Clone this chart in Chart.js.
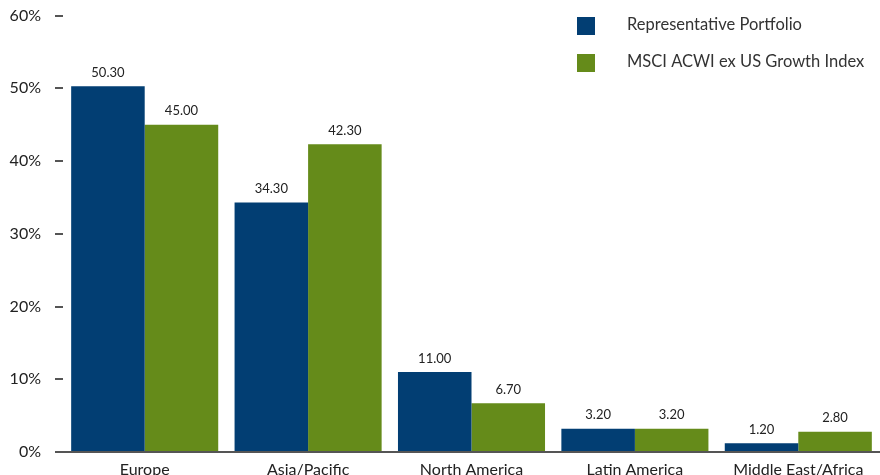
<!DOCTYPE html>
<html>
<head>
<meta charset="utf-8">
<script src="https://cdn.jsdelivr.net/npm/chart.js@4.4.1/dist/chart.umd.min.js"></script>
<style>
  html, body { margin: 0; padding: 0; background: #fff; overflow: hidden; }
  #wrap { position: relative; top: -8px; width: 880px; height: 500px; }
</style>
</head>
<body>
<div id="wrap"><canvas id="ctx"></canvas></div>
<script>
// Data
const regions = ['Europe', 'Asia/Pacific', 'North America', 'Latin America', 'Middle East/Africa'];
const portfolio = [50.30, 34.30, 11.00, 3.20, 1.20];
const benchmark = [45.00, 42.30, 6.70, 3.20, 2.80];
const seriesNames = ['Representative Portfolio', 'MSCI ACWI ex US Growth Index'];
const yTicks = [0, 10, 20, 30, 40, 50, 60];

const BLUE = '#023e73';
const GREEN = '#658b1a';
const FONT = 'Lato';

// value labels above each bar
const valueLabels = {
  id: 'valueLabels',
  afterDatasetsDraw(chart) {
    const c = chart.ctx;
    c.save();
    c.font = '13px ' + FONT;
    c.fillStyle = '#222';
    c.textAlign = 'center';
    c.textBaseline = 'bottom';
    chart.data.datasets.forEach((ds, i) => {
      chart.getDatasetMeta(i).data.forEach((bar, j) => {
        c.fillText(ds.data[j].toFixed(2), bar.x, bar.y - 7);
      });
    });
    c.restore();
  }
};

// stacked legend in the top right corner (canvas is shifted up 8px)
const sideLegend = {
  id: 'sideLegend',
  afterDraw(chart) {
    const c = chart.ctx;
    c.save();
    c.font = '16.5px ' + FONT;
    c.textBaseline = 'middle';
    chart.data.datasets.forEach((ds, i) => {
      const y = 25 + i * 37;
      c.fillStyle = ds.backgroundColor;
      c.fillRect(577, y, 18, 18);
      c.fillStyle = '#333';
      c.fillText(ds.label, 627, y + 8);
    });
    c.restore();
  }
};

new Chart(document.getElementById('ctx'), {
  type: 'bar',
  data: {
    labels: regions,
    datasets: [{
      label: seriesNames[0],
      data: portfolio,
      backgroundColor: BLUE,
      categoryPercentage: 0.9,
      barPercentage: 1.0
    }, {
      label: seriesNames[1],
      data: benchmark,
      backgroundColor: GREEN,
      categoryPercentage: 0.9,
      barPercentage: 1.0
    }]
  },
  options: {
    responsive: true,
    maintainAspectRatio: false,
    animation: false,
    layout: { padding: { top: 16, left: 0, right: 0, bottom: 0 } },
    plugins: {
      legend: { display: false },
      tooltip: { enabled: false }
    },
    scales: {
      x: {
        grid: { display: false, drawTicks: false },
        border: { display: true, color: '#555', width: 2 },
        ticks: { color: '#222', font: { family: FONT, size: 16 }, padding: 8, maxRotation: 0 },
        afterFit: s => { s.height = 40; }
      },
      y: {
        min: 0,
        max: 60,
        afterBuildTicks: s => { s.ticks = yTicks.map(v => ({ value: v })); },
        grid: { drawOnChartArea: false, drawTicks: true, tickLength: 8, color: '#555', lineWidth: 2 },
        border: { display: false },
        ticks: {
          color: '#222',
          font: { family: FONT, size: 16 },
          padding: 14,
          callback: v => v + '%'
        },
        afterFit: s => { s.width = 63; }
      }
    }
  },
  plugins: [valueLabels, sideLegend]
});
</script>
</body>
</html>
